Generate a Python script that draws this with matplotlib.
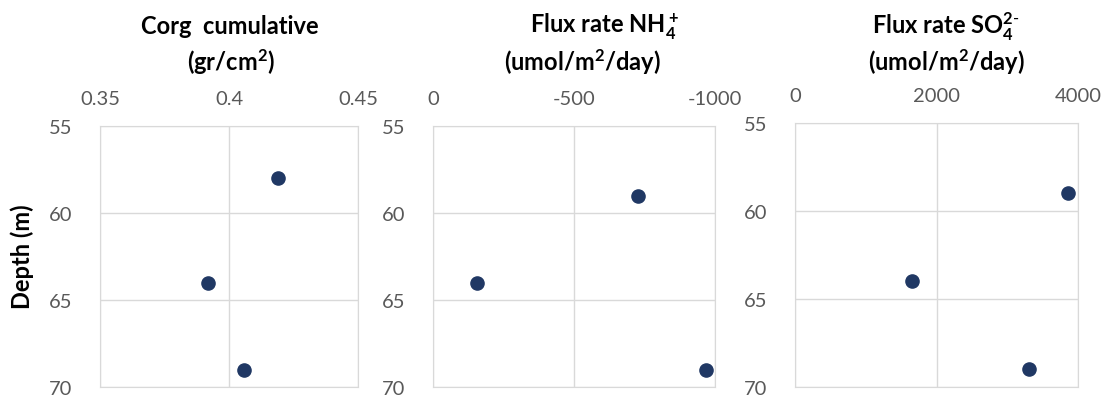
import matplotlib
matplotlib.use("Agg")
import matplotlib.pyplot as plt

plt.rcParams['font.family'] = ['Lato', 'DejaVu Sans']
plt.rcParams['mathtext.fontset'] = 'custom'
plt.rcParams['mathtext.rm'] = 'Lato'
plt.rcParams['mathtext.bf'] = 'Lato:bold'

# depth of the three samples (m)
depth_corg = [58, 64, 69]
depth_nh4 = [59, 64, 69]
depth_so4 = [59, 64, 69]

# values
corg = [0.419, 0.392, 0.406]
flux_nh4 = [-727, -156, -968]
flux_so4 = [3860, 1654, 3307]

title_top = ["Corg  cumulative",
             r"Flux rate NH$\mathbf{_4^+}$",
             r"Flux rate SO$\mathbf{_4^{2\text{-}}}$"]
title_bot = [r"(gr/cm$\mathbf{^2}$)",
             r"(umol/m$\mathbf{^2}$/day)",
             r"(umol/m$\mathbf{^2}$/day)"]
xlims = [(0.35, 0.45), (0, -1000), (0, 4000)]
xticks = [[0.35, 0.40, 0.45], [0, -500, -1000], [0, 2000, 4000]]
xlabels = [["0.35", "0.4", "0.45"], ["0", "-500", "-1000"], ["0", "2000", "4000"]]
yticks = [55, 60, 65, 70]

navy = "#203864"
grey = "#d9d9d9"
txt = "#595959"

fig = plt.figure(figsize=(11.09, 4.02), dpi=100)

# axes boxes in figure fractions
boxes = [[0.0902, 0.035, 0.2326, 0.649],
         [0.3904, 0.035, 0.2543, 0.649],
         [0.7169, 0.035, 0.2552, 0.6565]]
top_x = [0.207, 0.545, 0.853]
bot_x = [0.208, 0.525, 0.853]

data = [(corg, depth_corg), (flux_nh4, depth_nh4), (flux_so4, depth_so4)]

for i in range(3):
    ax = fig.add_axes(boxes[i])
    xs, ys = data[i]
    ax.scatter(xs, ys, s=90, color=navy, zorder=3)
    ax.set_xlim(*xlims[i])
    ax.set_ylim(70, 55)
    ax.set_xticks(xticks[i])
    ax.set_xticklabels(xlabels[i])
    ax.set_yticks(yticks)
    ax.xaxis.tick_top()
    ax.tick_params(length=0, labelsize=14.5, labelcolor=txt)
    ax.tick_params(axis='x', pad=14)
    ax.tick_params(axis='y', pad=20)
    ax.grid(True, color=grey, linewidth=1)
    for s in ax.spines.values():
        s.set_color(grey)
    fig.text(top_x[i], 0.933, title_top[i], ha='center', va='center',
             fontsize=17, fontweight='bold', color='black')
    fig.text(bot_x[i], 0.846, title_bot[i], ha='center', va='center',
             fontsize=17, fontweight='bold', color='black')

fig.text(0.02, 0.361, "Depth (m)", rotation=90, ha='center', va='center',
         fontsize=17, fontweight='bold')

plt.savefig("out.png", dpi=100)
